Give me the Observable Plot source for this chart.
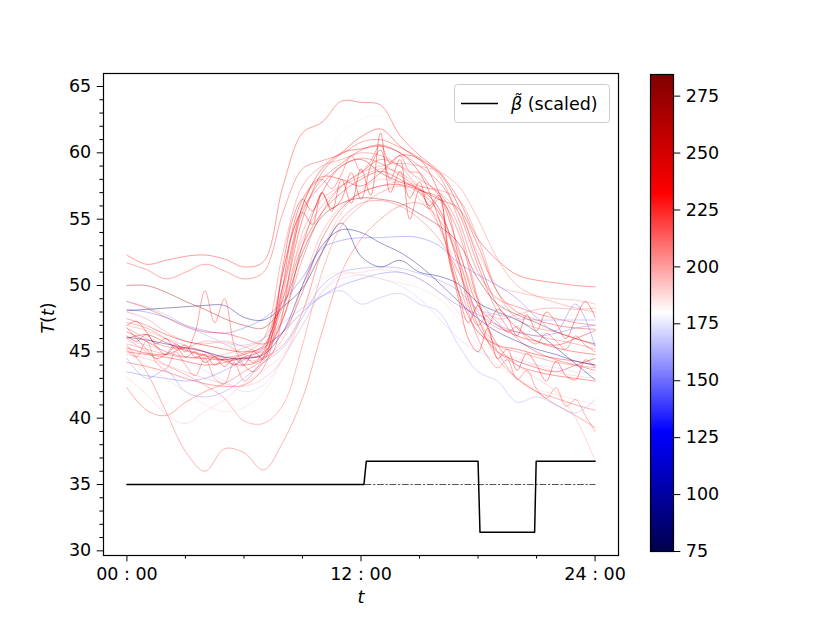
<!DOCTYPE html>
<html><head><meta charset="utf-8">
<script src="https://cdn.jsdelivr.net/npm/d3@7"></script>
<script src="https://cdn.jsdelivr.net/npm/@observablehq/plot@0.6"></script>
<style>
body{margin:0;background:#fff;}
#wrap{position:relative;width:830px;height:623px;font-family:"DejaVu Sans";background:#fff;}
#wrap svg{position:absolute;top:0;}
</style></head><body><div id="wrap"></div>
<script>
// ---- time grids ----
const hours = [0,1,2,3,4,5,6,7,8,9,10,11,12,13,14,15,16,17,18,19,20,21,22,23,24];
const halfHours = [0,0.5,1,1.5,2,2.5,3,3.5,4,4.5,5,5.5,6,6.5,7,7.5,8,8.5,9,9.5,10,10.5,11,11.5,12,12.5,13,13.5,14,14.5,15,15.5,16,16.5,17,17.5,18,18.5,19,19.5,20,20.5,21,21.5,22,22.5,23,23.5,24];

// ---- temperature curves (hourly) ----
const r1 = [52.3,51.6,51.9,52.2,52.3,52.0,51.4,51.8,57.5,61.5,62.3,63.9,63.8,63.6,61.3,59.8,58.6,56.5,53.5,51.9,50.8,50.4,50.2,50.0,49.9];
const r2 = [51.7,51.2,50.5,51.0,51.6,51.1,50.5,51.0,55.5,58.8,59.4,59.9,60.8,61.0,60.4,59.6,58.3,55.0,51.0,49.0,48.4,47.9,47.5,47.2,47.0];
const r3 = [46.5,45.8,45.0,44.6,44.5,44.4,44.8,45.5,49.0,55.0,58.5,60.0,61.2,61.8,60.5,59.5,58.5,56.0,52.0,48.5,46.8,45.8,45.3,45.0,44.8];
const r4 = [47.2,46.8,46.0,45.2,44.8,44.6,44.9,46.0,52.5,57.5,59.0,59.5,60.0,59.8,59.0,57.5,57.2,56.5,53.5,49.5,47.5,46.8,46.5,46.0,45.5];
const r5 = [45.0,44.8,44.6,44.3,44.0,44.2,44.6,45.2,48.5,53.0,55.5,57.0,58.0,58.6,58.0,57.2,56.6,54.0,48.8,45.5,44.0,43.5,43.2,43.0,42.8];
const r6 = [48.0,47.5,46.5,45.8,45.6,45.8,45.4,45.0,48.0,54.0,56.5,57.5,58.2,58.8,58.5,57.3,55.5,52.5,49.0,47.5,47.8,48.2,48.3,48.2,48.3];
const r7 = [46.0,46.3,45.7,45.1,44.7,44.4,44.5,44.9,47.5,53.0,57.0,59.0,59.5,58.5,57.8,57.3,55.8,51.5,47.0,45.0,44.3,43.8,43.5,44.0,44.5];
const r8 = [44.2,43.9,43.5,43.0,42.6,42.4,42.5,43.8,49.5,55.5,58.0,59.2,60.2,60.6,60.0,59.0,57.8,55.5,51.5,48.0,46.0,45.0,44.4,44.0,43.6];
const r9 = [47.0,46.6,46.0,45.5,45.0,44.6,44.4,44.5,46.0,50.0,54.0,56.0,57.0,57.5,57.8,57.5,57.0,55.5,52.5,50.0,49.5,49.2,49.0,48.9,48.6];
const r10 = [46.8,46.0,45.4,45.3,45.8,45.6,44.8,44.6,45.5,48.0,52.5,55.0,56.2,56.4,56.0,55.0,53.5,51.0,48.0,46.8,46.5,46.2,45.9,45.6,45.2];
const r11 = [45.3,44.9,44.8,45.3,45.0,44.3,44.0,44.6,51.0,56.5,58.2,58.0,57.5,58.5,59.8,59.5,57.0,52.8,48.5,47.0,46.2,45.8,45.5,46.0,46.6];
const r12 = [45.5,43.5,40.5,37.5,36.0,37.7,37.4,36.1,38.2,41.5,46.5,51.0,53.5,55.0,56.0,56.2,55.0,52.0,47.5,44.5,43.0,42.0,41.0,40.2,39.3];
const r13 = [46.0,45.0,44.0,43.3,42.5,41.5,39.8,39.6,41.0,45.5,51.0,54.5,56.0,57.0,57.5,57.0,55.5,52.0,47.5,45.5,45.0,44.6,44.2,44.0,43.8];
const r14 = [43.1,41.8,40.3,39.6,40.5,41.4,42.6,43.6,44.8,47.0,49.5,50.8,51.0,51.2,51.0,50.5,49.5,48.0,46.5,45.0,44.5,44.0,43.5,43.2,43.0];
const r15 = [42.3,40.6,40.2,41.2,42.0,42.6,43.5,44.5,47.5,52.0,55.5,57.5,58.5,59.5,59.0,58.0,57.0,54.5,49.0,45.0,43.0,42.0,41.5,41.0,40.6];
const r16 = [44.8,44.5,44.0,43.5,43.0,42.6,42.4,43.0,44.5,48.0,52.5,55.5,57.2,58.0,57.6,56.5,54.5,51.0,47.5,45.0,44.0,43.0,42.0,40.0,36.8];
const r17 = [48.8,48.3,47.6,46.9,46.5,46.4,46.0,45.6,46.5,49.5,53.5,55.8,57.0,57.5,57.6,57.2,56.5,55.8,53.0,49.5,48.0,47.4,47.0,46.8,46.7];
const r18 = [45.6,45.2,44.8,44.6,44.6,44.8,45.3,46.0,49.0,53.5,56.0,57.5,58.5,59.0,59.2,59.0,58.6,57.5,55.0,52.0,50.0,49.2,48.7,48.3,48.0];
const r19 = [47.5,47.0,46.3,45.8,45.5,45.2,45.0,45.4,50.0,56.0,58.8,60.0,60.3,60.5,60.0,58.5,55.0,49.5,46.5,45.5,45.2,44.8,44.5,44.3,44.0];
const b1 = [48.2,48.0,47.6,47.0,46.6,46.4,46.8,47.5,48.8,50.6,52.8,53.4,53.6,53.6,53.7,53.6,53.0,51.7,50.8,50.0,49.0,47.6,46.6,48.6,45.4];
const b2 = [44.5,43.0,43.6,42.0,41.6,42.0,43.0,44.2,45.3,47.6,50.0,51.0,51.3,51.4,51.3,50.9,50.4,49.6,48.2,47.8,47.5,47.4,47.4,47.4,47.4];
const b3 = [48.8,48.4,47.8,47.0,46.3,45.7,45.5,46.0,47.2,48.3,49.2,49.6,48.6,49.1,49.4,48.6,48.0,45.5,43.5,42.8,41.2,41.6,41.0,40.4,41.4];
const b4 = [45.8,45.5,45.0,44.3,43.6,42.8,42.0,42.5,44.5,47.0,49.5,50.5,50.8,50.5,50.0,49.0,47.5,46.0,45.0,44.5,44.2,44.0,43.8,43.5,43.4];
const b5 = [43.5,43.2,43.0,42.8,43.0,43.6,44.4,45.3,46.5,48.0,49.2,50.0,50.5,50.9,51.0,50.5,49.5,48.5,47.8,47.0,46.5,46.2,46.4,46.8,47.0];
const g1 = [48.1,48.2,48.3,48.4,48.5,48.5,47.6,47.4,48.4,49.8,52.5,54.7,52.2,51.4,51.9,51.0,50.7,50.1,48.7,48.0,47.4,46.5,45.3,44.1,42.9];
const g2 = [50.0,50.0,49.5,48.8,48.2,47.5,47.0,46.8,48.5,52.5,55.2,56.2,56.6,56.5,56.2,55.4,54.5,53.2,50.5,48.6,47.8,47.2,46.5,46.0,45.6];
const g3 = [46.1,45.9,45.6,45.3,45.0,44.6,44.5,44.8,46.5,50.0,53.0,54.2,54.0,53.2,52.5,51.5,50.2,48.8,47.5,46.5,45.8,45.2,44.8,44.3,44.0];
const w1 = [46.0,45.5,45.0,44.6,44.3,44.2,44.5,45.5,48.5,54.0,58.5,61.5,62.5,62.8,62.0,60.0,57.5,54.0,50.0,48.0,47.5,47.5,47.6,47.8,48.0];
const w2 = [47.5,47.0,46.5,46.0,45.8,45.8,46.2,47.0,48.5,50.0,50.5,50.8,51.0,50.8,50.5,50.0,49.0,48.0,47.5,47.2,47.0,46.8,46.8,46.6,46.5];
const w3 = [45.0,44.0,43.0,42.0,41.0,40.5,40.8,42.0,44.5,48.0,50.5,51.0,50.8,50.5,50.2,49.8,49.0,47.5,45.5,44.0,43.0,42.2,41.8,41.4,41.0];
// ---- wiggly curves (half-hourly) ----
const q1 = [46.8,46.0,45.2,44.5,44.8,45.6,45.0,46.5,49.6,47.2,49.0,45.5,44.0,43.5,44.2,45.0,
            48.0,52.5,56.0,57.5,58.0,57.3,58.4,59.8,58.6,59.4,60.6,59.2,59.8,58.6,58.5,57.6,56.8,55.5,52.0,48.5,
            47.0,47.8,47.2,46.5,46.9,46.0,45.6,46.4,45.8,45.2,46.2,45.5,45.0];
const q2 = [47.0,47.3,46.5,45.6,46.0,45.2,45.5,44.6,44.8,44.0,44.5,44.0,44.6,44.2,45.0,47.0,
            51.5,55.0,56.5,55.6,57.0,55.8,56.5,58.5,56.5,59.0,60.2,58.0,59.5,55.0,57.2,56.0,56.8,52.0,49.0,46.0,
            45.0,46.8,44.5,45.2,43.6,44.9,44.0,42.8,44.3,43.2,42.9,44.4,43.8];
const q3 = [46.2,45.8,46.3,45.4,44.8,45.4,44.6,45.0,44.2,44.6,43.9,44.5,44.0,45.0,44.4,46.5,
            50.0,54.0,55.5,54.6,57.0,55.6,58.0,56.2,58.8,56.8,61.5,57.0,58.6,56.6,57.8,55.8,56.5,52.5,49.5,47.2,
            48.5,47.0,48.2,47.6,46.2,47.8,46.6,48.0,47.2,46.0,47.5,48.8,47.6];
const q4 = [45.2,44.6,45.8,44.2,43.7,45.0,44.0,43.2,44.5,43.0,42.6,44.2,42.8,43.5,44.6,47.5,
            51.0,54.0,55.8,56.8,57.6,58.4,59.0,59.4,59.6,59.5,59.2,58.8,58.3,57.8,57.0,56.0,54.5,52.5,50.2,48.0,
            46.0,44.6,43.8,44.4,42.9,43.6,42.2,41.5,42.3,40.9,41.4,40.2,39.0];

// colour value of each curve (colorbar units)
const seriesValues = [r1,r2,r3,r4,r5,r6,r7,r8,r9,r10,r11,r12,r13,r14,r15,r16,r17,r18,r19,b1,b2,b3,b4,b5,g1,g2,g3,w1,w2,w3,q1,q2,q3,q4];
const seriesColor  = [228,222,235,215,230,210,240,225,205,215,232,218,212,195,220,200,228,210,236,148,155,160,168,150,85,270,100,185,178,190,225,232,238,220];

// ---- beta (scaled) ----
const betaT = [0,12.15,12.27,18.0,18.1,20.9,20.98,24];
const betaV = [35,35,36.75,36.75,31.4,31.4,36.75,36.75];
const refT = [12.2,24];
const refV = [35,35];

// ---- ticks ----
const xTicks = [0,12,24];
const xTickLabels = ["00 : 00","12 : 00","24 : 00"];
const xMinorTicks = [3,6,9,15,18,21];
const yTicks = [30,35,40,45,50,55,60,65];
const yMinorTicks = [31,32,33,34,36,37,38,39,41,42,43,44,46,47,48,49,51,52,53,54,56,57,58,59,61,62,63,64];
const cbTicks = [75,100,125,150,175,200,225,250,275];
const cbDomain = [75,284.5];

// ---- build tables ----
const rows = [];
seriesValues.forEach((vals, i) => {
  const ts = vals.length === hours.length ? hours : halfHours;
  vals.forEach((v, j) => rows.push({id: i, t: ts[j], v, c: seriesColor[i]}));
});
const betaRows = betaT.map((t, i) => ({t, v: betaV[i]}));
const refRows = refT.map((t, i) => ({t, v: refV[i]}));

const mid = (cbDomain[0] + cbDomain[1]) / 2;
const colorScale = {
  type: "linear",
  domain: [cbDomain[0], (cbDomain[0]+mid)/2, mid, (mid+cbDomain[1])/2, cbDomain[1]],
  range: ["#00004d", "#0000ff", "#ffffff", "#ff0000", "#800000"],
  interpolate: "rgb"
};
const FS = 17.5;
const style = {fontFamily: "DejaVu Sans", fontSize: FS + "px", color: "black", background: "transparent", overflow: "visible"};

const main = Plot.plot({
  width: 830, height: 623,
  marginLeft: 103, marginRight: 212, marginTop: 73, marginBottom: 68,
  style,
  x: {domain: [-1.2, 25.2], label: null},
  y: {domain: [29.65, 65.98], label: null},
  color: colorScale,
  marks: [
    Plot.line(rows, {x: "t", y: "v", z: "id", stroke: "c", strokeWidth: 0.9, strokeOpacity: 0.45, curve: "catmull-rom"}),
    Plot.line(refRows, {x: "t", y: "v", stroke: "#555", strokeWidth: 1, strokeDasharray: "6,2.5,1.5,2.5"}),
    Plot.line(betaRows, {x: "t", y: "v", stroke: "black", strokeWidth: 1.5}),
    Plot.frame({stroke: "black", strokeWidth: 1.2}),
    Plot.axisX({ticks: xTicks, tickFormat: d => xTickLabels[xTicks.indexOf(d)], tickSize: 6.3, tickPadding: 6, label: null}),
    Plot.axisX({ticks: xMinorTicks, tickSize: 3.6, tickFormat: () => "", label: null}),
    Plot.axisY({ticks: yTicks, tickSize: 6.3, tickPadding: 6, label: null}),
    Plot.axisY({ticks: yMinorTicks, tickSize: 3.6, tickFormat: () => "", label: null})
  ]
});
main.style.left = "0px";

const cbSteps = d3.range(cbDomain[0], cbDomain[1], 0.5);
const cb = Plot.plot({
  width: 110, height: 623,
  marginLeft: 10, marginRight: 77, marginTop: 74, marginBottom: 72,
  style,
  x: {domain: [0, 1], axis: null},
  y: {domain: cbDomain, label: null},
  color: colorScale,
  marks: [
    Plot.rect(cbSteps, {x1: 0, x2: 1, y1: d => d, y2: d => Math.min(d + 0.5, cbDomain[1]), fill: d => d + 0.25, shapeRendering: "crispEdges"}),
    Plot.frame({stroke: "black", strokeWidth: 1.2}),
    Plot.axisY({anchor: "right", ticks: cbTicks, tickSize: 6.3, tickPadding: 6, label: null})
  ]
});
cb.style.left = "640px";

const wrap = document.getElementById("wrap");
wrap.appendChild(main);
wrap.appendChild(cb);

// ---- axis labels & legend ----
const svg = d3.select(main);
const yl = svg.append("text").attr("transform", "translate(54,318) rotate(-90)")
  .attr("text-anchor", "middle").attr("font-size", FS).attr("fill", "black");
yl.append("tspan").attr("font-style", "italic").text("T");
yl.append("tspan").text("(");
yl.append("tspan").attr("font-style", "italic").text("t");
yl.append("tspan").text(")");
svg.append("text").attr("x", 361).attr("y", 603).attr("text-anchor", "middle")
  .attr("font-size", FS).attr("font-style", "italic").attr("fill", "black").text("t");

const lg = svg.append("g");
lg.append("rect").attr("x", 454.5).attr("y", 84.5).attr("width", 155).attr("height", 38).attr("rx", 3)
  .attr("fill", "white").attr("fill-opacity", 0.8).attr("stroke", "#cccccc").attr("stroke-width", 1);
lg.append("line").attr("x1", 461).attr("x2", 498).attr("y1", 103.5).attr("y2", 103.5)
  .attr("stroke", "black").attr("stroke-width", 1.4);
const lt = lg.append("text").attr("x", 511).attr("y", 110).attr("text-anchor", "start")
  .attr("font-size", FS).attr("fill", "black");
lt.append("tspan").attr("font-style", "italic").text("\u03B2\u0303");
lt.append("tspan").text(" (scaled)");
</script>
</body></html>
